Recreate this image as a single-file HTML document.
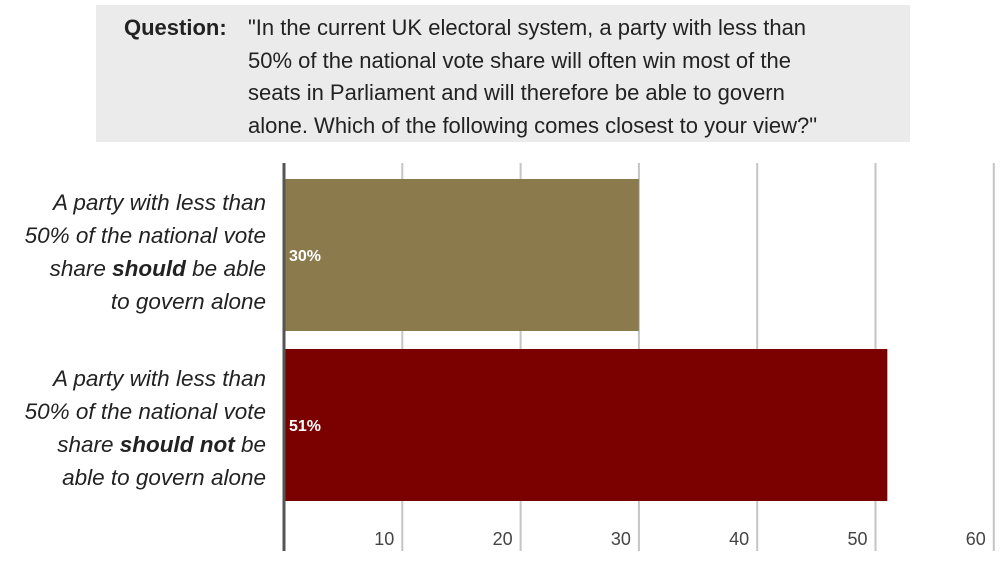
<!DOCTYPE html>
<html><head><meta charset="utf-8"><style>
body{margin:0;width:1003px;height:572px;background:#fff;overflow:hidden;font-family:"Liberation Sans",sans-serif;position:relative}
#qbox{position:absolute;left:96px;top:5px;width:814px;height:137px;background:#ebebeb}
.q{position:absolute;font-size:22px;color:#222;line-height:32.5px}
.lab{position:absolute;right:737px;width:260px;text-align:right;font-style:italic;font-size:22.5px;line-height:33px;color:#222}
</style></head><body>
<div id="qbox"></div>
<div class="q" style="left:124px;top:12px;font-weight:bold">Question:</div>
<div class="q" style="left:248px;top:12px;width:660px">"In the current UK electoral system, a party with less than<br>50% of the national vote share will often win most of the<br>seats in Parliament and will therefore be able to govern<br>alone. Which of the following comes closest to your view?"</div>
<div class="lab" style="top:186px">A party with less than<br>50% of the national vote<br>share <b>should</b> be able<br>to govern alone</div>
<div class="lab" style="top:362px">A party with less than<br>50% of the national vote<br>share <b>should not</b> be<br>able to govern alone</div>
<svg id="chart" width="1003" height="572" style="position:absolute;left:0;top:0"></svg>
<script>
const categories=["should","should-not"];
const values=[30,51];
const colors=["#8b7a4b","#7b0000"];
const ticks=[10,20,30,40,50,60];
const svg=document.getElementById('chart');
const NS="http://www.w3.org/2000/svg";
const x0=284, pxPer=11.83;
const x=v=>x0+v*pxPer;
const barTop=[179,349], barH=152;
function mk(t,a){const e=document.createElementNS(NS,t);for(const k in a)e.setAttribute(k,a[k]);svg.appendChild(e);return e;}
ticks.forEach(t=>{
 const g=mk('line',{x1:x(t),x2:x(t),y1:163,y2:551,stroke:'#c4c4c4','stroke-width':2});
 
 
 const tx=mk('text',{x:x(t)-8,y:545,'text-anchor':'end','font-size':18,fill:'#444','font-family':'Liberation Sans, sans-serif'});
 tx.textContent=t;
 
 
});
values.forEach((v,i)=>{
 const r=mk('rect',{x:x0+1,y:barTop[i],width:x(v)-x0-1,height:barH,fill:colors[i]});
 
 
 const t=mk('text',{x:x0+5,y:barTop[i]+barH/2+6,'font-size':16,'font-weight':'bold',fill:'#fff','font-family':'Liberation Sans, sans-serif'});
 t.textContent=v+'%';
 
 
});
const ax=mk('line',{x1:x0,x2:x0,y1:163,y2:551,stroke:'#555','stroke-width':3});


</script>
</body></html>
